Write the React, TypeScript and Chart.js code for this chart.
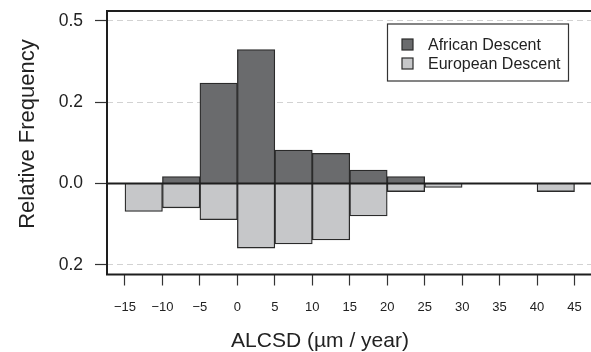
import React, { useEffect, useRef } from "react";
import { Chart, registerables } from "chart.js";

Chart.register(...registerables);

// ---- data ----
const binCenters = [-12.5, -7.5, -2.5, 2.5, 7.5, 12.5, 17.5, 22.5, 27.5, 32.5, 37.5, 42.5];
const africanFreq: (number | null)[] = [null, 0.017, 0.247, 0.329, 0.082, 0.074, 0.033, 0.017, null, null, null, null];
const europeanFreq: (number | null)[] = [0.069, 0.06, 0.089, 0.159, 0.149, 0.139, 0.08, 0.02, 0.01, null, null, 0.02];
const xTickValues = [-15, -10, -5, 0, 5, 10, 15, 20, 25, 30, 35, 40, 45];
const xTickLabels = ["−15", "−10", "−5", "0", "5", "10", "15", "20", "25", "30", "35", "40", "45"];
const yTickValues = [-0.2, 0, 0.2, 0.4];
const yTickLabels = ["0.2", "0.0", "0.2", "0.5"];
const seriesLabels = ["African Descent", "European Descent"];
const xTitle = "ALCSD (µm / year)";
const yTitle = "Relative Frequency";

const FONT = '"Liberation Sans", Arial, Helvetica, sans-serif';
const DARK = "#6a6b6d";
const LIGHT = "#c6c7c9";
const EDGE = "#2a2a2a";

const decor = {
  id: "decor",
  afterDatasetsDraw(chart: any) {
    const { ctx, chartArea: a, scales } = chart;
    const y0 = scales.y.getPixelForValue(0);
    ctx.save();
    // frame and zero line
    ctx.strokeStyle = "#1e1e1e";
    ctx.lineWidth = 2;
    ctx.beginPath();
    ctx.moveTo(a.right + 4, a.top);
    ctx.lineTo(a.left, a.top);
    ctx.lineTo(a.left, a.bottom);
    ctx.lineTo(a.right + 4, a.bottom);
    ctx.moveTo(a.left, y0);
    ctx.lineTo(a.right + 4, y0);
    ctx.stroke();

    // legend
    const lx = 387.5, ly = 24, lw = 181, lh = 57;
    ctx.fillStyle = "#ffffff";
    ctx.fillRect(lx, ly, lw, lh);
    ctx.strokeStyle = "#333";
    ctx.lineWidth = 1.2;
    ctx.strokeRect(lx, ly, lw, lh);
    ctx.font = `16px ${FONT}`;
    ctx.textBaseline = "middle";
    ctx.textAlign = "left";
    chart.data.datasets.forEach((ds: any, i: number) => {
      const cy = 44.5 + i * 19;
      ctx.fillStyle = ds.backgroundColor;
      ctx.fillRect(402, cy - 5.5, 11, 11);
      ctx.strokeStyle = EDGE;
      ctx.lineWidth = 1.2;
      ctx.strokeRect(402, cy - 5.5, 11, 11);
      ctx.fillStyle = "#222";
      ctx.fillText(ds.label, 428, cy + 1);
    });

    // axis titles
    ctx.fillStyle = "#222";
    ctx.font = `21px ${FONT}`;
    ctx.textAlign = "center";
    ctx.textBaseline = "alphabetic";
    ctx.fillText(xTitle, 320, 346.5);
    ctx.save();
    ctx.translate(33.5, 134);
    ctx.rotate(-Math.PI / 2);
    ctx.font = `22px ${FONT}`;
    ctx.fillText(yTitle, 0, 0);
    ctx.restore();
    ctx.restore();
  },
};

export default function App() {
  const ref = useRef<HTMLCanvasElement | null>(null);
  useEffect(() => {
    if (!ref.current) return;
    const chart = new Chart(ref.current, {
      type: "bar",
      data: {
        datasets: [
          {
            label: seriesLabels[0],
            data: binCenters.map((x, i) => ({ x, y: africanFreq[i] })),
            backgroundColor: DARK,
            borderColor: EDGE,
            borderWidth: 1.3,
            barPercentage: 1,
            categoryPercentage: 1,
            grouped: false,
          } as any,
          {
            label: seriesLabels[1],
            data: binCenters.map((x, i) => ({ x, y: europeanFreq[i] == null ? null : -(europeanFreq[i] as number) })),
            backgroundColor: LIGHT,
            borderColor: EDGE,
            borderWidth: 1.3,
            barPercentage: 1,
            categoryPercentage: 1,
            grouped: false,
          } as any,
        ],
      },
      options: {
        responsive: false,
        animation: false,
        devicePixelRatio: 1,
        layout: { autoPadding: false, padding: { left: 0, top: 11, right: 3.5, bottom: 0 } },
        plugins: { legend: { display: false }, tooltip: { enabled: false } },
        scales: {
          x: {
            type: "linear",
            offset: false,
            min: -17.4,
            max: 47.4,
            afterBuildTicks: (s: any) => {
              s.ticks = xTickValues.map((v) => ({ value: v }));
            },
            afterFit: (s: any) => {
              s.height = 77.5;
              s.paddingLeft = 0;
              s.paddingRight = 0;
            },
            ticks: {
              autoSkip: false,
              maxRotation: 0,
              padding: 14,
              color: "#222",
              font: { family: FONT, size: 13 },
              callback: (v: any) => {
                const i = xTickValues.indexOf(Number(v));
                return i >= 0 ? xTickLabels[i] : "";
              },
            },
            grid: { offset: false, drawOnChartArea: false, drawTicks: true, tickLength: 11, tickColor: "#333", tickWidth: 1.2 },
            border: { display: false },
          },
          y: {
            type: "linear",
            min: -0.224,
            max: 0.424,
            afterBuildTicks: (s: any) => {
              s.ticks = yTickValues.map((v) => ({ value: v }));
            },
            afterFit: (s: any) => {
              s.width = 107;
              s.paddingTop = 0;
              s.paddingBottom = 0;
            },
            ticks: {
              padding: 12,
              color: "#222",
              font: { family: FONT, size: 17.5 },
              callback: (v: any) => {
                const i = yTickValues.findIndex((t) => Math.abs(t - Number(v)) < 1e-9);
                return i >= 0 ? yTickLabels[i] : "";
              },
            },
            grid: {
              drawOnChartArea: true,
              drawTicks: true,
              tickLength: 12,
              color: "#d2d2d2",
              lineWidth: 1,
              tickColor: "#333",
              tickWidth: 1.2,
              tickBorderDash: [],
            },
            border: { display: false, dash: [6, 4] },
          },
        },
      },
      plugins: [decor],
    });
    return () => chart.destroy();
  }, []);
  return (
    <div style={{ position: "fixed", left: 0, top: 0, width: 591, height: 352, overflow: "hidden", background: "#fff" }}>
      <canvas ref={ref} width={596} height={352} style={{ width: 596, height: 352, display: "block" }} />
    </div>
  );
}
